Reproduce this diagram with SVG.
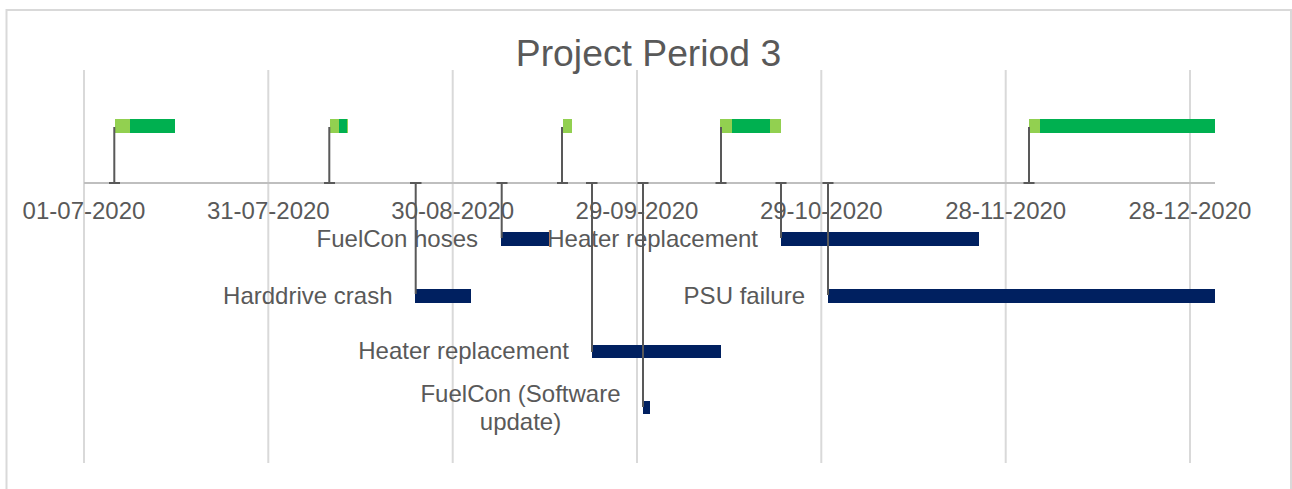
<svg xmlns="http://www.w3.org/2000/svg" width="1292" height="489" viewBox="0 0 1292 489">
<style>
.grid{stroke:#d9d9d9;stroke-width:2;fill:none}
.axis{stroke:#bfbfbf;stroke-width:2;fill:none}
.txt{font-family:"Liberation Sans",Arial,sans-serif;fill:#595959;font-size:24px}
.date{text-anchor:middle}
.lab{text-anchor:end}
.lg{fill:#92d050}
.dg{fill:#00b050}
.nv{fill:#002060}
.stem{stroke:#595959;stroke-width:2;fill:none}
</style>
<rect x="0" y="0" width="1292" height="489" fill="#ffffff"/>
<rect x="6.5" y="10" width="1284.5" height="490" fill="#ffffff" stroke="#d9d9d9" stroke-width="2"/>
<text x="648.5" y="66" class="txt" style="font-size:37.3px" text-anchor="middle">Project Period 3</text>
<g id="gridlines">
<line class="grid" x1="84" y1="70" x2="84" y2="463"/>
<line class="grid" x1="268.3" y1="70" x2="268.3" y2="463"/>
<line class="grid" x1="452.7" y1="70" x2="452.7" y2="463"/>
<line class="grid" x1="637" y1="70" x2="637" y2="463"/>
<line class="grid" x1="821.3" y1="70" x2="821.3" y2="463"/>
<line class="grid" x1="1005.7" y1="70" x2="1005.7" y2="463"/>
<line class="grid" x1="1190" y1="70" x2="1190" y2="463"/>
</g>
<g id="axis">
<line class="axis" x1="84" y1="183" x2="1215" y2="183"/>
<text class="txt date" x="84" y="219">01-07-2020</text>
<text class="txt date" x="268.3" y="219">31-07-2020</text>
<text class="txt date" x="452.7" y="219">30-08-2020</text>
<text class="txt date" x="637" y="219">29-09-2020</text>
<text class="txt date" x="821.3" y="219">29-10-2020</text>
<text class="txt date" x="1005.7" y="219">28-11-2020</text>
<text class="txt date" x="1190" y="219">28-12-2020</text>
</g>
<g id="flag1">
<rect class="lg" x="115" y="119" width="15" height="14"/>
<rect class="dg" x="130" y="119" width="45" height="14"/>
</g>
<g id="flag2">
<rect class="lg" x="330" y="119" width="9" height="14"/>
<rect class="dg" x="339" y="119" width="8" height="14"/>
<rect class="lg" x="347" y="119" width="1" height="14"/>
</g>
<g id="flag3">
<rect class="lg" x="563" y="119" width="9" height="14"/>
</g>
<g id="flag4">
<rect class="lg" x="720" y="119" width="12" height="14"/>
<rect class="dg" x="732" y="119" width="38" height="14"/>
<rect class="lg" x="770" y="119" width="11" height="14"/>
</g>
<g id="flag5">
<rect class="lg" x="1029" y="119" width="11" height="14"/>
<rect class="dg" x="1040" y="119" width="175" height="14"/>
</g>
<g id="fuelcon-hoses">
<rect class="nv" x="501" y="232" width="48" height="14"/>
<text class="txt lab" x="478" y="246.5">FuelCon hoses</text>
</g>
<g id="heater-replacement-1">
<rect class="nv" x="781" y="232" width="198" height="14"/>
<text class="txt lab" x="758" y="246.5">Heater replacement</text>
</g>
<g id="harddrive-crash">
<rect class="nv" x="415" y="289" width="56" height="14"/>
<text class="txt lab" x="392.5" y="303.5">Harddrive crash</text>
</g>
<g id="psu-failure">
<rect class="nv" x="828" y="289" width="387" height="14"/>
<text class="txt lab" x="805" y="303.5">PSU failure</text>
</g>
<g id="heater-replacement-2">
<rect class="nv" x="592" y="345" width="129" height="13"/>
<text class="txt lab" x="569" y="359">Heater replacement</text>
</g>
<g id="fuelcon-software">
<rect class="nv" x="643" y="401" width="7" height="13"/>
<text class="txt date" x="520.5" y="402">FuelCon (Software</text>
<text class="txt date" x="520.5" y="430">update)</text>
</g>
<g id="connectors">
<path class="stem" d="M114.3 127V183M109 183H120"/>
<path class="stem" d="M329.3 127V183M324 183H335"/>
<path class="stem" d="M562 127V183M557 183H568"/>
<path class="stem" d="M721 127V183M715.5 183H726.5"/>
<path class="stem" d="M1029 127V183M1023.5 183H1034.5"/>
<path class="stem" d="M415.7 183V294M410 183H421.5"/>
<path class="stem" d="M501.7 183V238M496.5 183H507.5"/>
<path class="stem" d="M592 183V352M586 183H597.5"/>
<path class="stem" d="M643 183V407M637.5 183H648.5"/>
<path class="stem" d="M781 183V238M775.5 183H786.5"/>
<path class="stem" d="M828 183V295M822.5 183H833.5"/>
</g>
</svg>
